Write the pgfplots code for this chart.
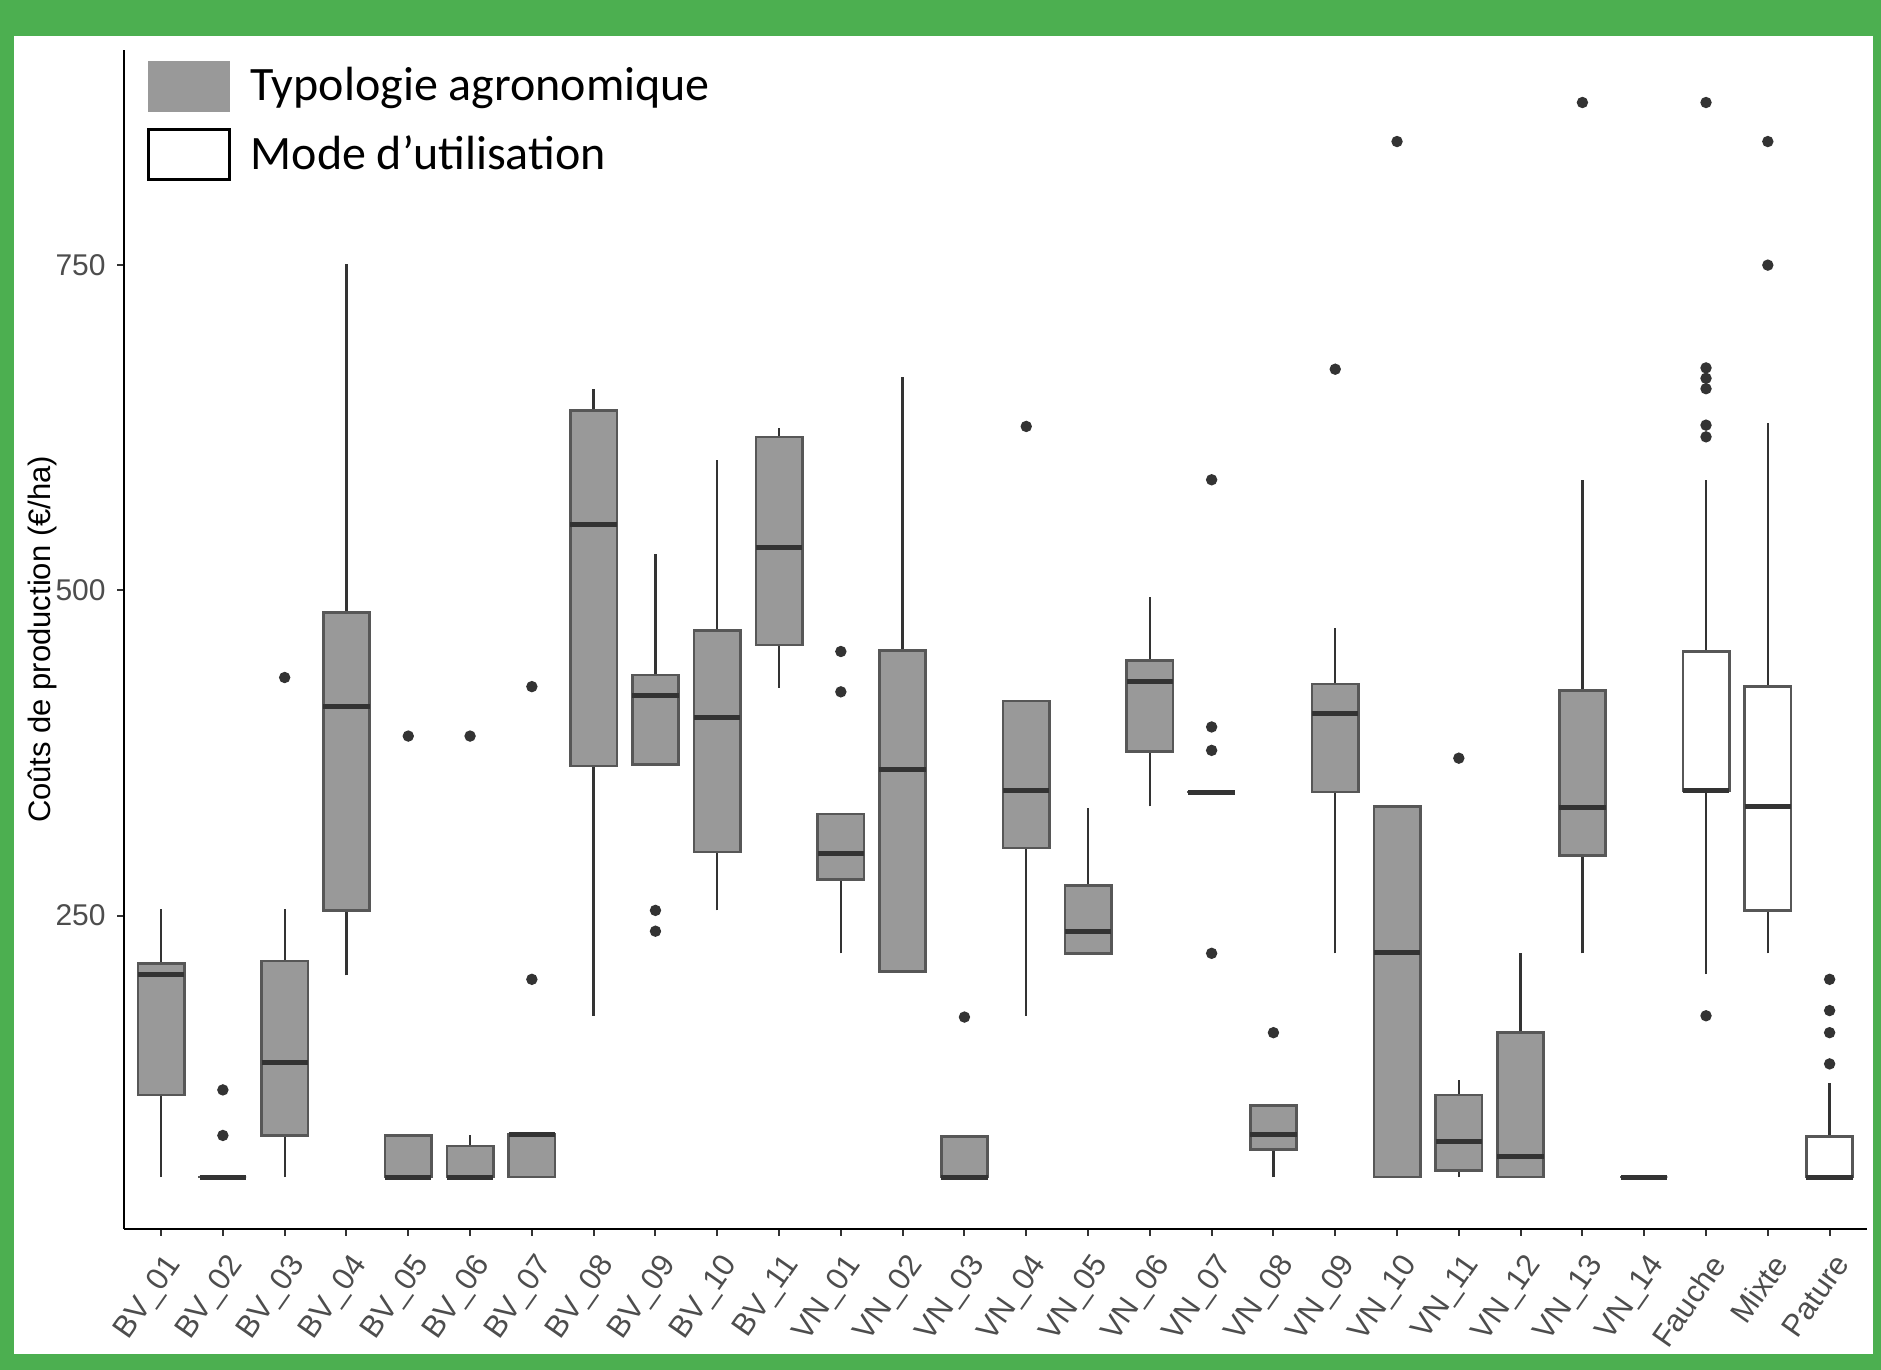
\documentclass[border=0pt]{standalone}
\usepackage{pgfplots}
\pgfplotsset{compat=1.18}
\usepackage{fontspec}
\setmainfont{Liberation Sans}
\newfontfamily\carlito{Carlito}
\definecolor{frame}{RGB}{76,175,80}
\definecolor{boxfill}{HTML}{999999}
\definecolor{boxedge}{HTML}{575757}
\definecolor{boxline}{HTML}{333333}
\definecolor{ticktext}{HTML}{4D4D4D}

% one box: left edge, centre, right edge, lower whisker, Q1, median, Q3, upper whisker, fill
\newcommand{\bx}[9]{%
  \addplot[boxline, line width=0.7pt] coordinates {(#2,#4) (#2,#5)};
  \addplot[boxline, line width=0.7pt] coordinates {(#2,#7) (#2,#8)};
  \addplot[fill=#9, draw=boxedge, line width=0.8pt, line cap=rect]
    coordinates {(#1,#5) (#3,#5) (#3,#7) (#1,#7) (#1,#5)};
  \addplot[boxline, line width=1.5pt] coordinates {(#1,#6) (#3,#6)};
}

\begin{document}
\begin{tikzpicture}
\fill[frame] (0,0) rectangle (564.3pt,411pt);
\fill[white] (4.2pt,4.8pt) rectangle (561.9pt,400.2pt);
\begin{axis}[
  at={(37.2pt,42.3pt)}, anchor=south west,
  scale only axis, width=522.8pt, height=353.7pt,
  xmin=0.4, xmax=28.6, ymin=9.1, ymax=915.4,
  axis x line*=bottom, axis y line*=left,
  axis line style={black, line width=0.7pt, -},
  xtick={1,...,28},
  xticklabels={BV\_01,BV\_02,BV\_03,BV\_04,BV\_05,BV\_06,BV\_07,BV\_08,BV\_09,BV\_10,BV\_11,
    VN\_01,VN\_02,VN\_03,VN\_04,VN\_05,VN\_06,VN\_07,VN\_08,VN\_09,VN\_10,VN\_11,VN\_12,VN\_13,VN\_14,
    Fauche,Mixte,Pature},
  ytick={250,500,750},
  tick style={boxline, line width=0.6pt},
  major tick length=2pt, tick align=outside,
  /pgf/number format/assume math mode=true,
  yticklabel style={text=ticktext, font=\fontsize{9}{10}\selectfont},
  xticklabel style={text=ticktext, font=\fontsize{9.3}{10}\selectfont, rotate=55, anchor=north east},
  ylabel={Coûts de production (€/ha)},
  every axis y label/.style={at={(axis description cs:-0.047,0.5)}, rotate=90, anchor=center,
    font=\fontsize{9.3}{11}\selectfont},
  legend style={at={(rel axis cs:0,1)}, anchor=north west, xshift=6.6pt, yshift=-3pt,
    draw=none, fill=none, inner sep=0pt, row sep=4.8pt,
    font=\carlito\fontsize{14.4}{17}\selectfont,
    /tikz/every odd column/.append style={column sep=4pt}},
  legend cell align=left,
]
\addlegendimage{legend image code/.code={\fill[boxfill] (0pt,-7.5pt) rectangle (24.3pt,7.5pt);}}
\addlegendentry{Typologie agronomique}
\addlegendimage{legend image code/.code={\draw[black, line width=0.9pt] (0pt,-7.5pt) rectangle (24.3pt,7.5pt);}}
\addlegendentry{Mode d’utilisation}

% typologie agronomique
\bx{0.625}{1}{1.375}{49}{112}{205}{213}{255}{boxfill}
\bx{1.625}{2}{2.375}{49}{49}{49}{49}{49}{boxfill}
\bx{2.625}{3}{3.375}{49}{81}{137}{215}{255}{boxfill}
\bx{3.625}{4}{4.375}{204}{254}{411}{483}{751}{boxfill}
\bx{4.625}{5}{5.375}{49}{49}{49}{81}{81}{boxfill}
\bx{5.625}{6}{6.375}{49}{49}{49}{73}{81}{boxfill}
\bx{6.625}{7}{7.375}{49}{49}{82}{82}{82}{boxfill}
\bx{7.625}{8}{8.375}{173}{365}{551}{638}{655}{boxfill}
\bx{8.625}{9}{9.375}{366}{366}{419}{435}{528}{boxfill}
\bx{9.625}{10}{10.375}{254}{299}{402}{469}{600}{boxfill}
\bx{10.625}{11}{11.375}{425}{458}{533}{618}{625}{boxfill}
\bx{11.625}{12}{12.375}{221}{278}{298}{328}{328}{boxfill}
\bx{12.625}{13}{13.375}{207}{207}{362}{454}{664}{boxfill}
\bx{13.625}{14}{14.375}{49}{49}{49}{80}{80}{boxfill}
\bx{14.625}{15}{15.375}{173}{302}{346}{415}{415}{boxfill}
\bx{15.625}{16}{16.375}{221}{221}{238}{273}{333}{boxfill}
\bx{16.625}{17}{17.375}{334}{376}{430}{446}{495}{boxfill}
\bx{17.625}{18}{18.375}{345}{345}{345}{345}{345}{boxfill}
\bx{18.625}{19}{19.375}{49}{70}{82}{104}{104}{boxfill}
\bx{19.625}{20}{20.375}{221}{345}{405}{428}{471}{boxfill}
\bx{20.625}{21}{21.375}{49}{49}{222}{334}{334}{boxfill}
\bx{21.625}{22}{22.375}{49}{54}{76}{112}{124}{boxfill}
\bx{22.625}{23}{23.375}{49}{49}{65}{160}{221}{boxfill}
\bx{23.625}{24}{24.375}{221}{296}{333}{423}{585}{boxfill}
\bx{24.625}{25}{25.375}{49}{49}{49}{49}{49}{boxfill}
% mode d'utilisation
\bx{25.625}{26}{26.375}{205}{346}{346}{453}{585}{white}
\bx{26.625}{27}{27.375}{221}{254}{334}{426}{629}{white}
\bx{27.625}{28}{28.375}{49}{49}{49}{80}{121}{white}

% outliers
\addplot[only marks, mark=*, mark size=1.5pt, mark options={fill=boxline, draw=boxline}] coordinates {
  (2,116) (2,81) (3,433) (5,388) (6,388) (7,426) (7,201) (9,254) (9,238)
  (12,453) (12,422) (14,172) (15,626) (18,585) (18,395) (18,377) (18,221)
  (19,160) (20,670) (21,845) (22,371) (24,875)
  (26,875) (26,671) (26,663) (26,655) (26,627) (26,618) (26,173)
  (27,845) (27,750) (28,201) (28,177) (28,160) (28,136)};
\end{axis}
\pgfresetboundingbox
\useasboundingbox (0,0) rectangle (564.3pt,411pt);
\end{tikzpicture}
\end{document}
